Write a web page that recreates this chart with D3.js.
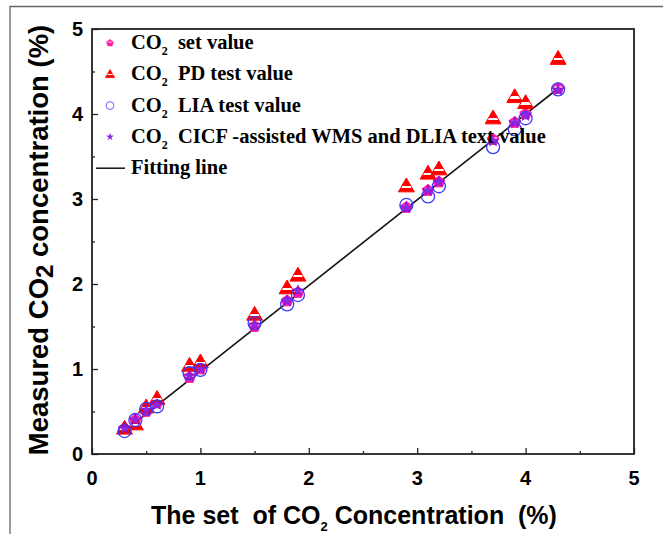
<!DOCTYPE html>
<html>
<head>
<script src="https://cdn.jsdelivr.net/npm/d3@7"></script>
<style>
  body { margin: 0; background: #fff; }
  svg text { fill: #000; white-space: pre; }
</style>
</head>
<body>
<script>
// set concentration (x) and the measured values of each method
var setX   = [0.3, 0.4, 0.5, 0.6, 0.9, 1.0, 1.5, 1.8, 1.9, 2.9, 3.1, 3.2, 3.7, 3.9, 4.0, 4.3];
var setVal = [0.3, 0.4, 0.5, 0.6, 0.9, 1.0, 1.5, 1.8, 1.9, 2.9, 3.1, 3.2, 3.7, 3.9, 4.0, 4.3];
var pdVal  = [0.3, 0.35, 0.55, 0.65, 1.04, 1.08, 1.64, 1.95, 2.1, 3.15, 3.3, 3.35, 3.95, 4.2, 4.13, 4.65];
var liaVal = [0.27, 0.4, 0.53, 0.56, 0.95, 0.99, 1.54, 1.76, 1.87, 2.93, 3.03, 3.15, 3.61, 3.82, 3.95, 4.29];
var cicfVal = [0.3, 0.4, 0.52, 0.58, 0.92, 1.0, 1.52, 1.8, 1.92, 2.9, 3.1, 3.2, 3.68, 3.9, 3.98, 4.28];
var fitX = [0.3, 4.3];
var fitY = [0.27, 4.3];
var ticks = [0, 1, 2, 3, 4, 5];
var minorTicks = [0.5, 1.5, 2.5, 3.5, 4.5];

var W = 663, H = 534;
var svg = d3.select('body').append('svg').attr('width', W).attr('height', H);

// outer frame (gray)
svg.append('path').attr('d', 'M10,' + H + 'V6.5H' + W)
  .attr('fill', 'none').attr('stroke', '#666').attr('stroke-width', 1.3);

var x = d3.scaleLinear().domain([0, 5]).range([92, 634]);
var y = d3.scaleLinear().domain([0, 5]).range([454, 29]);

var defs = svg.append('defs');
var grad = defs.append('linearGradient').attr('id', 'tri').attr('x1', 0).attr('y1', 0).attr('x2', 0).attr('y2', 1);
[[0, 'red'], [0.55, 'red'], [0.55, 'white'], [0.72, 'white'], [0.72, 'red'], [1, 'red']].forEach(function(s) {
  grad.append('stop').attr('offset', s[0]).attr('stop-color', s[1]);
});

// axes, ticks inward
var ax = svg.append('g');
ax.append('g').attr('transform', 'translate(0,454)')
  .call(d3.axisBottom(x).tickValues(ticks).tickSize(-6).tickFormat(''));
ax.append('g').attr('transform', 'translate(0,454)')
  .call(d3.axisBottom(x).tickValues(minorTicks).tickSize(-3).tickFormat(''));
ax.append('g').attr('transform', 'translate(92,0)')
  .call(d3.axisLeft(y).tickValues(ticks).tickSize(-6).tickFormat(''));
ax.append('g').attr('transform', 'translate(92,0)')
  .call(d3.axisLeft(y).tickValues(minorTicks).tickSize(-3).tickFormat(''));
ax.selectAll('.domain').remove();
ax.selectAll('line').attr('stroke', '#222').attr('stroke-width', 1.3);

svg.append('rect').attr('x', x(0)).attr('y', y(5))
  .attr('width', x(5) - x(0)).attr('height', y(0) - y(5))
  .attr('fill', 'none').attr('stroke', '#222').attr('stroke-width', 1.8);

// tick labels
svg.selectAll('.xl').data(ticks).enter().append('text')
  .attr('x', function(d) { return x(d); }).attr('y', 485)
  .attr('text-anchor', 'middle')
  .style('font', 'bold 20px "Liberation Sans", Arial, sans-serif')
  .text(function(d) { return d; });
svg.selectAll('.yl').data(ticks).enter().append('text')
  .attr('x', 83).attr('y', function(d) { return y(d) + 7; })
  .attr('text-anchor', 'end')
  .style('font', 'bold 20px "Liberation Sans", Arial, sans-serif')
  .text(function(d) { return d; });

// axis titles
var xt = svg.append('text').attr('x', 354).attr('y', 524).attr('text-anchor', 'middle')
  .style('font', 'bold 25px "Liberation Sans", Arial, sans-serif');
xt.append('tspan').text('The set  of CO');
xt.append('tspan').attr('dy', 7).style('font-size', '13px').text('2');
xt.append('tspan').attr('dy', -7).text(' Concentration  (%)');

var yt = svg.append('text').attr('transform', 'translate(48,240) rotate(-90)')
  .attr('text-anchor', 'middle')
  .style('font', 'bold 27.5px "Liberation Sans", Arial, sans-serif');
yt.append('tspan').text('Measured CO');
yt.append('tspan').attr('dy', 5).style('font-size', '24px').text('2');
yt.append('tspan').attr('dy', -5).text(' concentration (%)');

// fitting line
var line = d3.line().x(function(d) { return x(d[0]); }).y(function(d) { return y(d[1]); });
svg.append('path').datum(d3.zip(fitX, fitY)).attr('d', line)
  .attr('fill', 'none').attr('stroke', '#111').attr('stroke-width', 1.6);

function pentagon(r) {
  var p = [];
  for (var i = 0; i < 5; i++) {
    var a = -Math.PI / 2 + i * 2 * Math.PI / 5;
    p.push([r * Math.cos(a), r * Math.sin(a)]);
  }
  return 'M' + p.join('L') + 'Z';
}
var tri = d3.symbol().type(d3.symbolTriangle).size(110)();
var star = d3.symbol().type(d3.symbolStar).size(40)();

function drawSet(g) {
  g.append('path').attr('d', pentagon(6)).attr('fill', '#ff1aa0').attr('stroke', '#ff1aa0').attr('stroke-width', 1);
  g.append('line').attr('x1', -4).attr('x2', 4).attr('y1', -1.5).attr('y2', -1.5).attr('stroke', '#fff').attr('stroke-width', 1.2);
}
function drawPD(g) {
  g.append('path').attr('d', tri).attr('transform', 'translate(0,1)')
    .attr('fill', 'url(#tri)').attr('stroke', 'red').attr('stroke-width', 1);
}
function drawLIA(g) {
  g.append('circle').attr('r', 6.5).attr('fill', 'none').attr('stroke', '#3a3aff').attr('stroke-width', 1.3);
}
function drawCICF(g) {
  g.append('path').attr('d', star).attr('fill', '#8a2be2').attr('stroke', '#7a00e0').attr('stroke-width', 0.5);
}

function plot(vals, drawer) {
  var g = svg.append('g');
  g.selectAll('g').data(d3.zip(setX, vals)).enter().append('g')
    .attr('transform', function(d) { return 'translate(' + x(d[0]) + ',' + y(d[1]) + ')'; })
    .each(function() { drawer(d3.select(this)); });
}
plot(setVal, drawSet);
plot(pdVal, drawPD);
plot(liaVal, drawLIA);
plot(cicfVal, drawCICF);

// legend
var legend = [
  { name: 'set value', draw: drawSet },
  { name: 'PD test value', draw: drawPD },
  { name: 'LIA test value', draw: drawLIA },
  { name: 'CICF -assisted WMS and DLIA text value', draw: drawCICF }
];
var lg = svg.append('g');
legend.forEach(function(d, i) {
  var yy = 43 + i * 31.3;
  var s = lg.append('g').attr('transform', 'translate(110,' + yy + ') scale(0.6)');
  d.draw(s);
  var t = lg.append('text').attr('x', 131).attr('y', yy + 6)
    .style('font', 'bold 20.5px "Liberation Serif", "Times New Roman", serif');
  t.append('tspan').text('CO');
  t.append('tspan').attr('dy', 6).style('font-size', '12px').text('2');
  t.append('tspan').attr('dy', -6).attr('dx', 5).text(' ' + d.name);
});
var fy = 43 + 4 * 31.3;
lg.append('line').attr('x1', 96).attr('x2', 125).attr('y1', fy).attr('y2', fy)
  .attr('stroke', '#111').attr('stroke-width', 1.5);
lg.append('text').attr('x', 131).attr('y', fy + 6)
  .style('font', 'bold 20.5px "Liberation Serif", "Times New Roman", serif')
  .text('Fitting line');
</script>
</body>
</html>
